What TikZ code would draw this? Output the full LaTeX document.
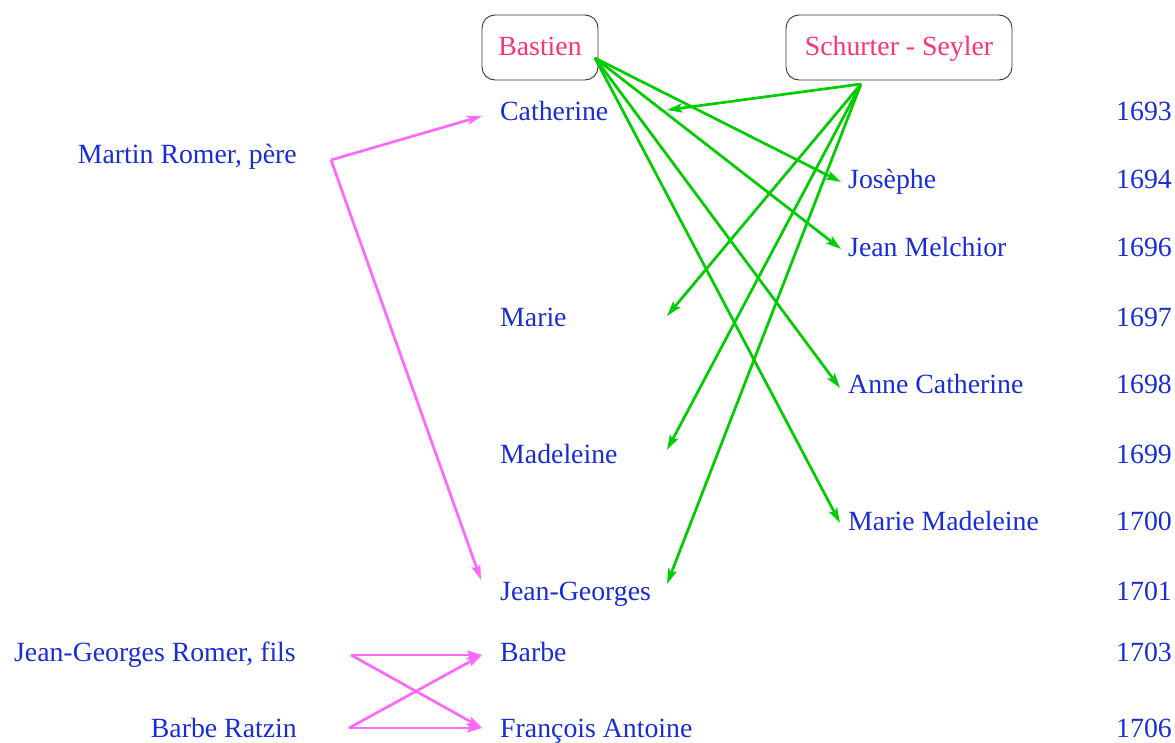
\documentclass[tikz,border=0pt]{standalone}
\usepackage{fontspec}
\setmainfont{Liberation Serif}
\usetikzlibrary{arrows.meta}
\definecolor{txtblue}{RGB}{25,45,215}
\definecolor{hdpink}{RGB}{255,50,120}
\definecolor{agreen}{RGB}{0,205,0}
\definecolor{amag}{RGB}{255,105,255}
\definecolor{boxgray}{RGB}{50,50,50}
\tikzset{
  lbl/.style={inner sep=0pt, text=txtblue, font=\fontsize{27.8}{30}\selectfont},
  childlbl/.style={lbl, anchor=base west},
  yearlbl/.style={lbl, anchor=base east},
  parentlbl/.style={lbl, anchor=base east},
  family/.style={draw=boxgray, line width=0.9pt, rounded corners=13pt, text=hdpink,
     font=\fontsize{27.8}{30}\selectfont, inner sep=0pt, minimum height=65pt,
     text height=19pt, text depth=3pt},
  garrow/.style={draw=agreen, line width=2.7pt, -{Stealth[length=15pt,width=9pt,inset=3pt]}},
  marrow/.style={draw=amag, line width=2.7pt, -{Stealth[length=15pt,width=9pt,inset=3pt]}},
  mline/.style={draw=amag, line width=2.7pt}
}
\begin{document}
\begin{tikzpicture}[x=1pt,y=-1pt]
\useasboundingbox (0,0) rectangle (1175,742);
% family boxes
\node[family, minimum width=116pt] (bastien) at (540,47.5) {Bastien};
\node[family, minimum width=226pt] (schurter) at (899,47.5) {Schurter - Seyler};
% children
\node[childlbl] (catherine) at (500,120) {Catherine};
\node[childlbl] (josephe) at (848,188) {Josèphe};
\node[childlbl] (melchior) at (848,256) {Jean Melchior};
\node[childlbl] (marie) at (500,326) {Marie};
\node[childlbl] (annecath) at (848,393) {Anne Catherine};
\node[childlbl] (madeleine) at (500,463) {Madeleine};
\node[childlbl] (mariemad) at (848,530) {Marie Madeleine};
\node[childlbl] (jeangeorges) at (500,600) {Jean-Georges};
\node[childlbl] (barbe) at (500,661) {Barbe};
\node[childlbl] (francois) at (500,737) {François Antoine};
% years
\node[yearlbl] (y1693) at (1172,120) {1693};
\node[yearlbl] (y1694) at (1172,188) {1694};
\node[yearlbl] (y1696) at (1172,256) {1696};
\node[yearlbl] (y1697) at (1172,326) {1697};
\node[yearlbl] (y1698) at (1172,393) {1698};
\node[yearlbl] (y1699) at (1172,463) {1699};
\node[yearlbl] (y1700) at (1172,530) {1700};
\node[yearlbl] (y1701) at (1172,600) {1701};
\node[yearlbl] (y1703) at (1172,661) {1703};
\node[yearlbl] (y1706) at (1172,737) {1706};
% parents
\node[parentlbl] (martin) at (297,163) {Martin Romer, père};
\node[parentlbl] (jgfils) at (296,661) {Jean-Georges Romer, fils};
\node[parentlbl] (ratzin) at (297,737) {Barbe Ratzin};
% connector points
\coordinate (bs) at (595,58);
\coordinate (ss) at (861,84);
\coordinate (ms) at (331,160);
\coordinate (fs) at (351,655);
\coordinate (rs) at (349,728);
\coordinate (tcat) at (667,110);
\coordinate (tjos) at (841,182);
\coordinate (tmel) at (841,249);
\coordinate (tmar) at (667,316);
\coordinate (tann) at (840,388);
\coordinate (tmad) at (667,450);
\coordinate (tmm) at (840,523);
\coordinate (tjg) at (667,584);
\coordinate (mcat) at (482,116);
\coordinate (mjg) at (481,580);
\coordinate (mbar) at (482,655);
\coordinate (mfra) at (482,728);
% green arrows
\draw[garrow] (bs) -- (tjos);
\draw[garrow] (bs) -- (tmel);
\draw[garrow] (bs) -- (tann);
\draw[garrow] (bs) -- (tmm);
\draw[garrow] (ss) -- (tcat);
\draw[garrow] (ss) -- (tmar);
\draw[garrow] (ss) -- (tmad);
\draw[garrow] (ss) -- (tjg);
% magenta arrows
\draw[mline] (ms) -- ++(2,0);
\draw[marrow] (ms) -- (mcat);
\draw[marrow] (ms) -- (mjg);
\draw[marrow] (fs) -- (mbar);
\draw[marrow] (fs) -- (mfra);
\draw[marrow] (rs) -- (mfra);
\draw[marrow] (rs) -- (mbar);
\end{tikzpicture}
\end{document}
